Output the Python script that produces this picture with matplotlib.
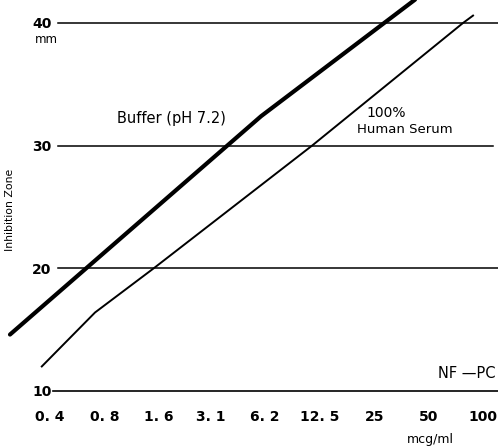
import numpy as np
import matplotlib
matplotlib.use('Agg')
import matplotlib.pyplot as plt

# concentration (mcg/ml) vs inhibition zone (mm)
buffer_conc = [0.24, 5.9, 42.0]
buffer_zone = [14.6, 32.4, 41.9]

serum_conc = [0.36, 0.71, 1.5, 11.3, 77.5, 88.0]
serum_zone = [12.0, 16.4, 20.0, 30.0, 40.0, 40.6]

x_ticks = [0.4, 0.8, 1.6, 3.1, 6.2, 12.5, 25, 50, 100]
x_labels = ['0. 4', '0. 8', '1. 6', '3. 1', '6. 2', '12. 5', '25', '50', '100']
y_ticks = [10, 20, 30, 40]

tick_font = ['Liberation Sans Narrow', 'DejaVu Sans Condensed', 'DejaVu Sans']

fig = plt.figure(figsize=(4.98, 4.47), dpi=100)
ax = fig.add_axes([0.0, 0.1253, 1.0, 0.8747])

ax.set_xscale('log', base=2)
ax.set_xlim(0.2113, 121)
ax.set_ylim(10, 41.87)

# horizontal rules
ax.axhline(10, xmin=0.106, xmax=1.0, color='black', lw=1.2, clip_on=False)
ax.axhline(20, xmin=0.1165, xmax=1.0, color='black', lw=1.1)
ax.axhline(30, xmin=0.1165, xmax=0.99, color='black', lw=1.1)
ax.axhline(40, xmin=0.1165, xmax=1.0, color='black', lw=1.1)

ax.plot(buffer_conc, buffer_zone, color='black', lw=3.0, solid_capstyle='round')
ax.plot(serum_conc, serum_zone, color='black', lw=1.4)

for s in ax.spines.values():
    s.set_visible(False)

ax.set_xticks(x_ticks)
ax.set_xticklabels(x_labels, family=tick_font, fontweight='bold', fontsize=10)
ax.xaxis.set_minor_locator(matplotlib.ticker.NullLocator())
ax.tick_params(axis='x', length=0, pad=14)

ax.set_yticks(y_ticks)
ax.set_yticklabels([str(v) for v in y_ticks], family=tick_font, fontweight='bold', fontsize=10)
ax.tick_params(axis='y', length=0, pad=-37)

ax.set_ylabel('Inhibition Zone', fontsize=7.8)
ax.yaxis.set_label_coords(0.030, 0.463)

ax.text(0.094, 0.900, 'mm', transform=ax.transAxes, ha='center', va='center', fontsize=8.5)
ax.text(0.345, 0.698, 'Buffer (pH 7.2)', transform=ax.transAxes, ha='center', va='center', fontsize=10.5)
ax.text(0.775, 0.711, '100%', transform=ax.transAxes, ha='center', va='center',
        family=tick_font, fontsize=10)
ax.text(0.813, 0.670, 'Human Serum', transform=ax.transAxes, ha='center', va='center', fontsize=9.5)
ax.text(0.994, 0.0435, 'NF \u2014PC', transform=ax.transAxes, ha='right', va='center', fontsize=10.5)
ax.text(0.865, -0.125, 'mcg/ml', transform=ax.transAxes, ha='center', va='center', fontsize=9)

fig.savefig('out.png', dpi=100)
